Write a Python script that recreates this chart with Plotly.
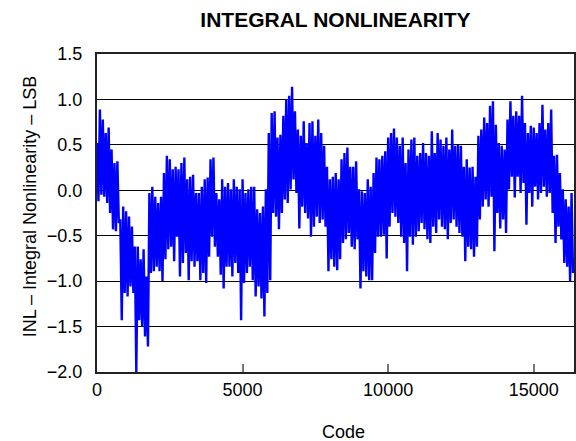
import plotly.graph_objects as go

# INL envelope: one (high, low) pair per 100 codes
inl_high = [
    0.52, 0.89, 0.78, 0.63, 0.69, 0.45, 0.30, 0.32, -0.32, -0.18,
    -0.23, -0.29, -0.40, -0.62, -0.62, -0.76, -0.65, -0.95, -0.03, 0.04,
    -0.07, -0.14, -0.07, 0.19, 0.38, 0.34, 0.23, 0.26, 0.23, 0.30,
    0.36, 0.12, 0.15, 0.17, -0.03, -0.03, 0.04, 0.12, 0.14, 0.34,
    0.36, -0.03, -0.10, 0.12, 0.04, 0.08, 0.01, 0.12, 0.04, 0.01,
    0.12, -0.03, 0.01, 0.04, 0.04, -0.21, -0.25, -0.18, 0.01, 0.63,
    0.85, 0.87, 0.58, 0.61, 0.82, 1.00, 1.04, 1.14, 0.87, 0.67,
    0.60, 0.76, 0.52, 0.74, 0.76, 0.60, 0.78, 0.63, 0.49, 0.26,
    0.12, 0.15, 0.19, 0.12, 0.34, 0.41, 0.47, 0.26, 0.26, 0.32,
    0.01, -0.01, -0.03, 0.12, 0.04, 0.19, 0.36, 0.34, 0.38, 0.43,
    0.58, 0.63, 0.68, 0.58, 0.49, 0.58, 0.30, 0.45, 0.56, 0.58,
    0.38, 0.41, 0.52, 0.41, 0.38, 0.65, 0.41, 0.63, 0.56, 0.49,
    0.58, 0.45, 0.67, 0.49, 0.50, 0.49, 0.26, 0.34, 0.25, 0.26,
    0.15, 0.60, 0.67, 0.80, 0.74, 0.93, 0.98, 0.72, 0.52, 0.49,
    0.45, 0.78, 0.98, 0.82, 0.87, 0.82, 1.04, 0.74, 0.63, 0.71,
    0.69, 0.63, 0.74, 0.94, 0.67, 0.74, 0.89, 0.38, 0.39, 0.19,
    0.01, -0.10, -0.18, -0.03,
]
inl_low = [
    -0.12, -0.05, -0.07, -0.14, -0.25, -0.43, -0.45, -0.36, -1.43, -1.13,
    -1.17, -1.06, -1.13, -2.00, -1.43, -1.50, -1.61, -1.72, -0.91, -0.89,
    -0.84, -0.89, -1.00, -0.76, -0.65, -0.62, -0.78, -0.51, -0.95, -0.80,
    -0.69, -0.99, -0.78, -0.84, -0.78, -0.99, -0.91, -1.02, -0.73, -0.51,
    -0.62, -0.73, -0.93, -1.08, -0.84, -0.84, -0.95, -0.80, -0.91, -1.43,
    -1.02, -0.91, -0.84, -0.99, -1.17, -1.06, -1.19, -1.39, -1.13, -0.99,
    -0.25, -0.29, -0.43, -0.25, -0.10, -0.14, 0.01, 0.12, -0.03, -0.42,
    -0.18, -0.25, -0.31, -0.51, -0.40, -0.29, -0.36, -0.32, -0.40, -0.89,
    -0.76, -0.84, -0.88, -0.76, -0.58, -0.54, -0.47, -0.62, -0.65, -0.54,
    -1.08, -0.89, -0.95, -0.99, -0.99, -0.69, -0.51, -0.51, -0.49, -0.75,
    -0.40, -0.25, -0.29, -0.36, -0.51, -0.58, -0.89, -0.51, -0.60, -0.51,
    -0.45, -0.36, -0.43, -0.54, -0.58, -0.40, -0.47, -0.32, -0.40, -0.43,
    -0.54, -0.36, -0.32, -0.40, -0.47, -0.51, -0.78, -0.62, -0.65, -0.73,
    -0.62, -0.32, -0.18, -0.10, -0.18, -0.07, -0.67, -0.25, -0.42, -0.32,
    -0.47, 0.01, 0.15, -0.08, 0.15, -0.03, 0.08, -0.38, -0.03, -0.18,
    0.04, -0.10, -0.03, 0.04, -0.07, -0.03, -0.25, -0.58, -0.40, -0.54,
    -0.80, -0.84, -1.00, -0.91,
]
code_step = 100
x_ticks = [0, 5000, 10000, 15000]
y_ticks = [-2.0, -1.5, -1.0, -0.5, 0.0, 0.5, 1.0, 1.5]

codes, values = [], []
for i, (hi, lo) in enumerate(zip(inl_high, inl_low)):
    codes += [i * code_step, i * code_step + code_step // 2]
    values += [hi, lo]

FONT = "Liberation Sans, Arial, Helvetica, sans-serif"

fig = go.Figure(go.Scatter(
    x=codes, y=values, mode="lines",
    line=dict(color="#0000FF", width=2.4),
    hoverinfo="skip", showlegend=False,
))

fig.update_layout(
    width=576, height=441,
    margin=dict(l=97, r=0, t=54, b=69),
    paper_bgcolor="white", plot_bgcolor="white",
    font=dict(family=FONT, size=18, color="black"),
    title=dict(text="<b>INTEGRAL NONLINEARITY</b>", x=0.5, xref="paper",
               y=1 - 20 / 441, yref="container", yanchor="middle",
               xanchor="center", font=dict(family=FONT, size=21, color="black")),
    annotations=[
        dict(text="INL – Integral Nonlinearity – LSB", textangle=-90,
             xref="paper", yref="paper", x=(30 - 97) / 479, y=(372 - 207) / 318,
             xanchor="center", yanchor="middle", showarrow=False,
             font=dict(family=FONT, size=18)),
        dict(text="Code", xref="paper", yref="paper", x=(345 - 97) / 479,
             y=(372 - 432) / 318,
             xanchor="center", yanchor="middle", showarrow=False,
             font=dict(family=FONT, size=18)),
    ],
)
fig.update_xaxes(
    range=[0, 16384], tickvals=x_ticks, ticktext=[str(v) for v in x_ticks],
    ticks="inside", ticklen=8, tickwidth=1.5, tickcolor="#777777",
    showgrid=False, zeroline=False,
    showline=True, mirror=True, linecolor="#222222", linewidth=2,
    tickfont=dict(family=FONT, size=18),
)
fig.update_yaxes(
    range=[-2.0, 1.5], tickvals=y_ticks, tickformat=".1f",
    ticks="", showgrid=True, gridcolor="black", gridwidth=1.2,
    zeroline=False, showline=True, mirror=True, linecolor="#222222",
    linewidth=2, ticklabelstandoff=9,
    tickfont=dict(family=FONT, size=18),
)

fig.write_html("out.html", config={"displayModeBar": False},
               post_script="document.body.style.margin='0';")
